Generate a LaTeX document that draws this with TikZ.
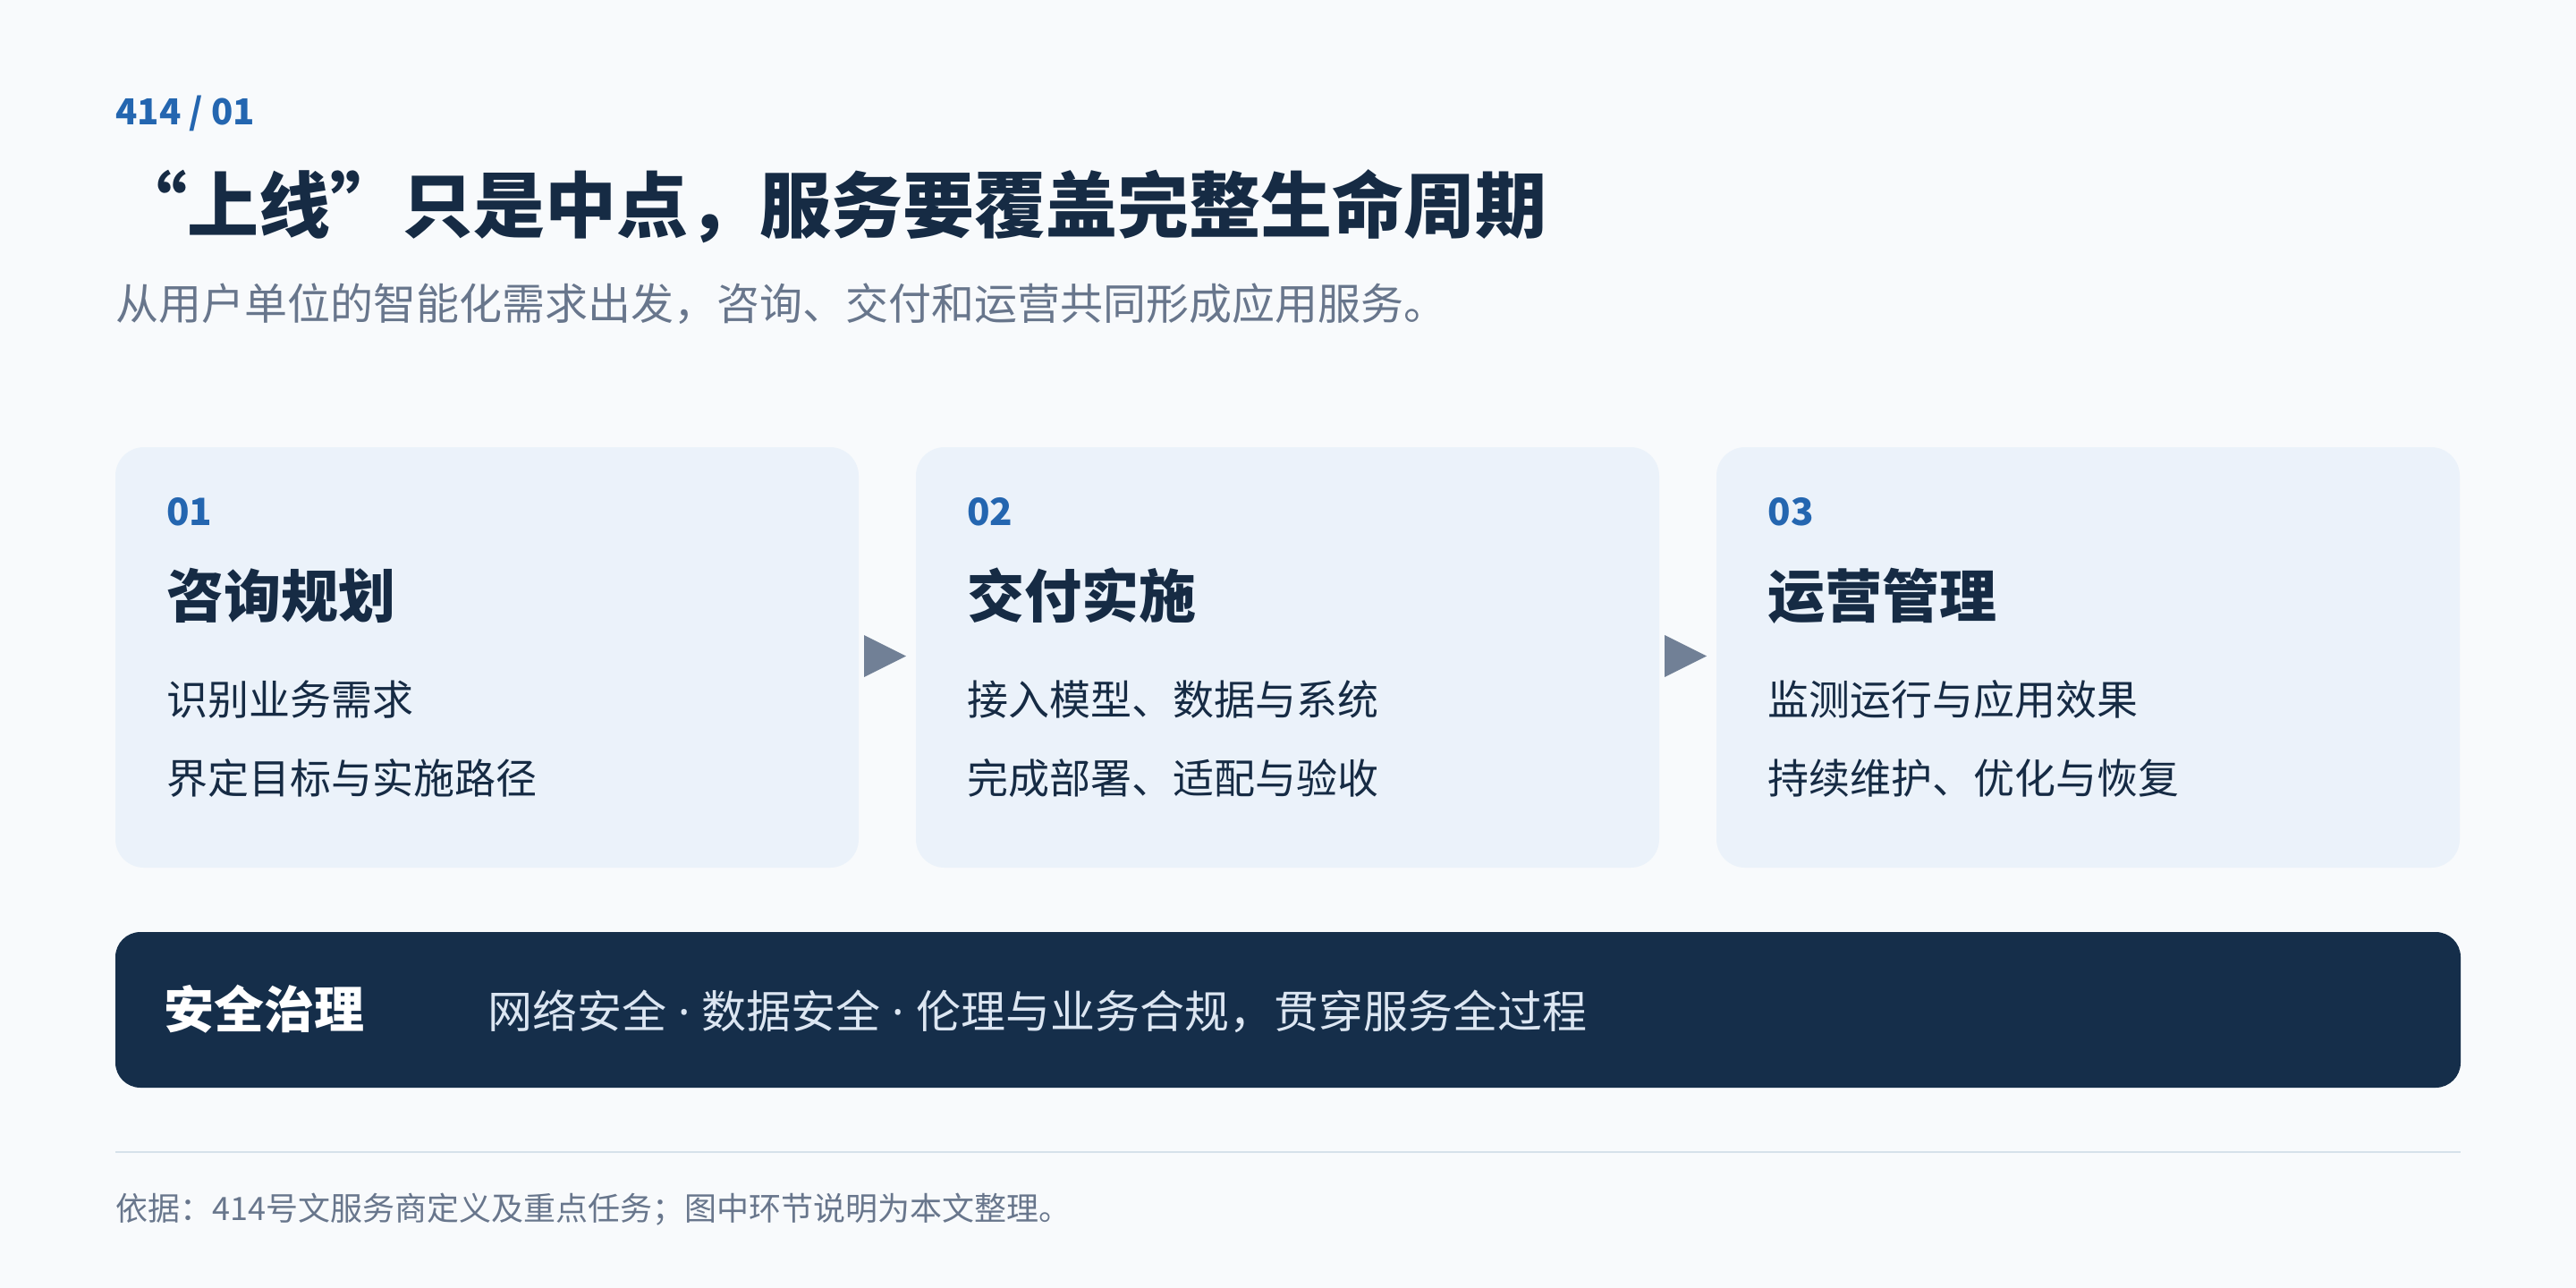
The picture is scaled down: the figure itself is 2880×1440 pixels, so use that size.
\documentclass[tikz,border=0pt]{standalone}
\usepackage{fontspec}
\setmainfont{Noto Sans CJK SC}
\newfontfamily\latinsep{Noto Sans}
\newcommand{\midsep}{{\latinsep\ ·\ }}
\usetikzlibrary{positioning}
\definecolor{pagebg}{RGB}{248,250,252}
\definecolor{cardbg}{RGB}{235,242,250}
\definecolor{ink}{RGB}{22,43,68}
\definecolor{accent}{RGB}{36,102,176}
\definecolor{muted}{RGB}{104,118,140}
\definecolor{tipgray}{RGB}{113,128,150}
\definecolor{barbg}{RGB}{21,46,74}
\definecolor{barfg}{RGB}{220,230,242}
\definecolor{rulecol}{RGB}{214,225,234}
\tikzset{card/.style={fill=cardbg,rounded corners=16pt,minimum width=415.5pt,minimum height=235pt,inner sep=0pt},
         txt/.style={anchor=west,inner sep=0pt},
         num/.style={txt,text=accent,font=\bfseries\fontsize{21}{21}\selectfont},
         head/.style={txt,text=ink,font=\bfseries\fontsize{32}{32}\selectfont},
         item/.style={txt,text=ink,font=\fontsize{23}{23}\selectfont},
         tip/.style={fill=tipgray},
        }

\begin{document}
\begin{tikzpicture}[x=0.5pt,y=-0.5pt]
        \fill[pagebg](0,0)rectangle(2880,1440);
        \useasboundingbox(0,0)rectangle(2880,1440);

        \node[txt,text=accent,font=\bfseries\fontsize{20}{20}\selectfont](tag)at(129,127){414 / 01};
        \node[txt,text=ink,font=\bfseries\fontsize{40}{40}\selectfont](title)at(129,231){“上线”只是中点，服务要覆盖完整生命周期};
        \node[txt,text=muted,font=\fontsize{24}{24}\selectfont](sub)at(129,340){从用户单位的智能化需求出发，咨询、交付和运营共同形成应用服务。};

        \node[card](c1)at(544.5,735){};
        \node[card](c2)at(1439.5,735){};
        \node[card](c3)at(2334.5,735){};

        \node[num](n1)at(186,572){01};
        \node[head](h1)at(186,666){咨询规划};
        \node[item](a1)at(186,782){识别业务需求};
        \node[item](b1)at(186,870){界定目标与实施路径};

        \node[num](n2)at(1081,572){02};
        \node[head](h2)at(1081,666){交付实施};
        \node[item](a2)at(1081,782){接入模型、数据与系统};
        \node[item](b2)at(1081,870){完成部署、适配与验收};

        \node[num](n3)at(1976,572){03};
        \node[head](h3)at(1976,666){运营管理};
        \node[item](a3)at(1976,782){监测运行与应用效果};
        \node[item](b3)at(1976,870){持续维护、优化与恢复};

        \fill[tip](966,710)--(1013,733.5)--(966,757)--cycle;
        \fill[tip](1861,710)--(1908,733.5)--(1861,757)--cycle;

        \node[fill=barbg,rounded corners=14pt,minimum width=1311pt,minimum height=87pt,inner sep=0pt](gov)at(1440,1129){};
        \node[txt,text=white,font=\bfseries\fontsize{28}{28}\selectfont](govt)at(183,1128){安全治理};
        \node[txt,text=barfg,font=\fontsize{25}{25}\selectfont](govd)at(545,1131){网络安全\midsep 数据安全\midsep 伦理与业务合规，贯穿服务全过程};

        \draw[rulecol,line width=1pt](129,1288)--(2751,1288);
        \node[txt,text=muted,font=\fontsize{18}{18}\selectfont](src)at(129,1352){依据：414号文服务商定义及重点任务；图中环节说明为本文整理。};
    \end{tikzpicture}
\end{document}
